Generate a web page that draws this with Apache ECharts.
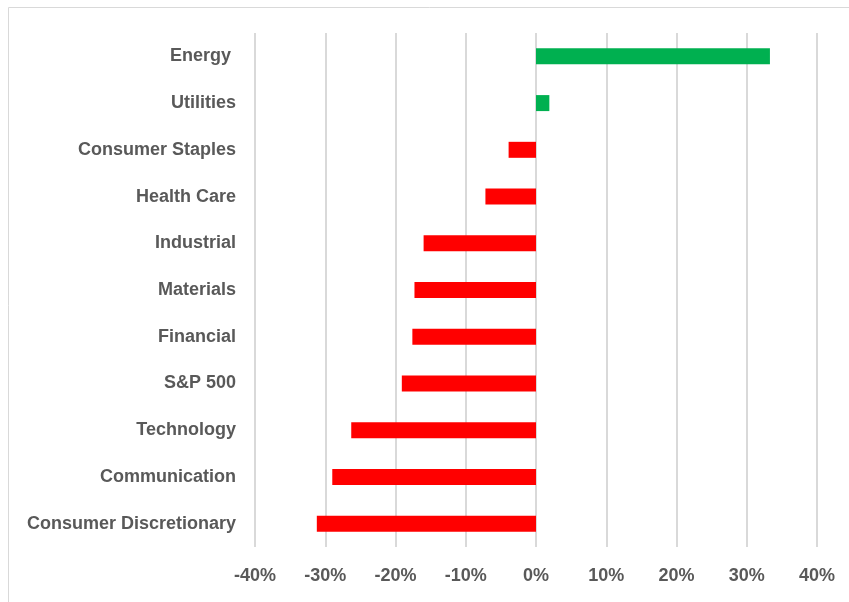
<!DOCTYPE html>
<html>
<head>
<meta charset="utf-8">
<script src="https://cdn.jsdelivr.net/npm/echarts@6/dist/echarts.min.js"></script>
<style>
  html, body { margin: 0; padding: 0; background: #fff; }
  #chart { width: 849px; height: 602px; }
</style>
</head>
<body>
<div id="chart"></div>
<script>
// sectors, bottom to top as ECharts draws a category y axis
var sectors = ['Consumer Discretionary', 'Communication', 'Technology', 'S&P 500', 'Financial',
  'Materials', 'Industrial', 'Health Care', 'Consumer Staples', 'Utilities', 'Energy '];
// returns in percent
var returns = [-31.2, -29.0, -26.3, -19.1, -17.6, -17.3, -16.0, -7.2, -3.9, 1.9, 33.3];
var axisTicks = [-40, -30, -20, -10, 0, 10, 20, 30, 40];

var upColor = '#00B050';
var downColor = '#FF0000';
var textColor = '#595959';
var lineColor = '#D9D9D9';

var chart = echarts.init(document.getElementById('chart'));

chart.setOption({
  animation: false,
  graphic: [{
    type: 'rect',
    shape: { x: 8.5, y: 7.5, width: 860, height: 620 },
    style: { fill: 'none', stroke: lineColor, lineWidth: 1 },
    silent: true
  }],
  grid: { left: 255, right: 32, top: 33, bottom: 55 },
  xAxis: {
    type: 'value',
    min: axisTicks[0],
    max: axisTicks[axisTicks.length - 1],
    interval: 10,
    axisLine: { show: false },
    axisTick: { show: false },
    splitLine: { lineStyle: { color: lineColor, width: 2 } },
    axisLabel: {
      formatter: function (v) { return v + '%'; },
      color: textColor,
      fontFamily: 'Liberation Sans',
      fontWeight: 'bold',
      fontSize: 18,
      margin: 20
    }
  },
  yAxis: {
    type: 'category',
    data: sectors,
    axisLine: { show: false },
    axisTick: { show: false },
    axisLabel: {
      color: textColor,
      fontFamily: 'Liberation Sans',
      fontWeight: 'bold',
      fontSize: 18,
      margin: 19
    }
  },
  series: [{
    type: 'bar',
    barWidth: 16,
    data: returns.map(function (v) {
      return { value: v, itemStyle: { color: v >= 0 ? upColor : downColor } };
    })
  }]
});
</script>
</body>
</html>
